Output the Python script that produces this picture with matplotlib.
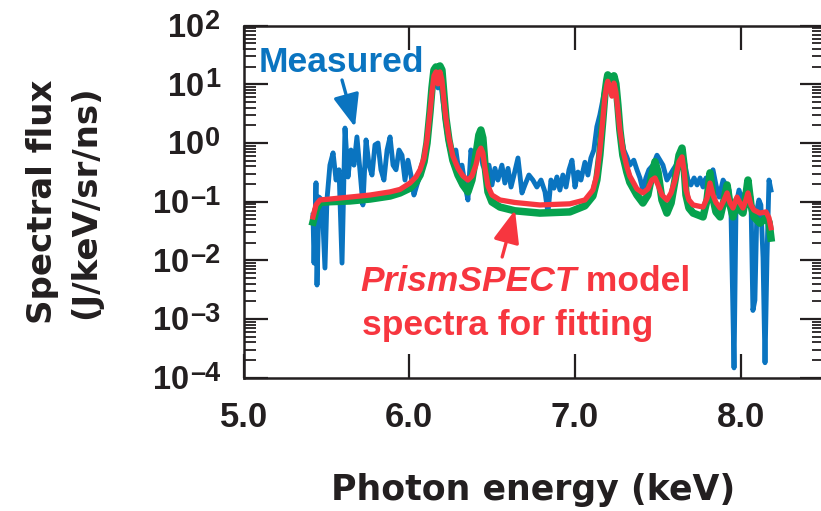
import numpy as np
import matplotlib
matplotlib.use("Agg")
import matplotlib.pyplot as plt
from matplotlib.ticker import LogLocator, NullFormatter

plt.rcParams['font.family'] = ['Liberation Sans', 'DejaVu Sans']
plt.rcParams['font.weight'] = 'bold'

# ---- measured spectrum (keV, J/keV/sr/ns) ----
meas_energy = [
    5.419, 5.425, 5.437, 5.443, 5.455, 5.473, 5.491, 5.503, 5.521, 5.540,
    5.558, 5.576, 5.594, 5.612, 5.630, 5.648, 5.666, 5.684, 5.702, 5.720,
    5.739, 5.757, 5.775, 5.793, 5.811, 5.829, 5.847, 5.866, 5.884, 5.902,
    5.920, 5.938, 5.956, 5.974, 5.992, 6.010, 6.028, 6.046, 6.065, 6.089,
    6.107, 6.125, 6.143, 6.161, 6.173, 6.185, 6.203, 6.221, 6.239, 6.263,
    6.281, 6.300, 6.318, 6.336, 6.354, 6.372, 6.390, 6.408, 6.426, 6.444,
    6.463, 6.481, 6.499, 6.517, 6.535, 6.559, 6.577, 6.596, 6.614, 6.632,
    6.656, 6.680, 6.698, 6.722, 6.746, 6.770, 6.795, 6.819, 6.837, 6.855,
    6.873, 6.891, 6.909, 6.927, 6.946, 6.964, 6.982, 7.000, 7.018, 7.036,
    7.060, 7.078, 7.096, 7.114, 7.132, 7.150, 7.168, 7.186, 7.204, 7.223,
    7.241, 7.259, 7.277, 7.295, 7.313, 7.331, 7.355, 7.374, 7.392, 7.410,
    7.428, 7.446, 7.471, 7.495, 7.513, 7.531, 7.555, 7.573, 7.592, 7.610,
    7.628, 7.646, 7.664, 7.682, 7.700, 7.719, 7.737, 7.755, 7.773, 7.791,
    7.809, 7.833, 7.851, 7.870, 7.894, 7.912, 7.930, 7.942, 7.960, 7.972,
    7.990, 8.008, 8.026, 8.044, 8.062, 8.074, 8.086, 8.098, 8.110, 8.122,
    8.135, 8.147, 8.159, 8.171, 8.183,
]
meas_flux = [
    0.059, 0.009, 0.21, 0.0038, 0.12, 0.107, 0.0074, 0.107, 0.42, 0.68,
    0.234, 0.35, 0.009, 1.8, 0.264, 0.76, 0.42, 1.27, 0.35, 0.088,
    1.13, 0.42, 0.285, 0.93, 1.0, 0.35, 0.234, 0.76, 1.27, 0.42,
    0.35, 0.76, 0.62, 0.234, 0.51, 0.285, 0.13, 0.193, 0.285, 0.51,
    1.0, 3.0, 9.8, 14.5, 8.7, 14.0, 5.4, 2.03, 0.93, 0.51,
    0.76, 0.32, 0.42, 0.193, 0.107, 0.76, 0.42, 0.76, 0.76, 0.42,
    0.32, 0.42, 0.193, 0.37, 0.234, 0.42, 0.208, 0.37, 0.178, 0.285,
    0.556, 0.141, 0.193, 0.285, 0.234, 0.178, 0.234, 0.147, 0.064, 0.234,
    0.17, 0.264, 0.158, 0.285, 0.178, 0.35, 0.51, 0.178, 0.32, 0.234,
    0.47, 0.285, 0.556, 0.76, 1.9, 3.0, 5.4, 9.8, 11.8, 6.6,
    9.8, 3.66, 1.37, 0.76, 0.58, 0.42, 0.51, 0.35, 0.254, 0.158,
    0.254, 0.35, 0.42, 0.62, 0.51, 0.42, 0.234, 0.285, 0.35, 0.42,
    0.58, 0.76, 0.42, 0.234, 0.193, 0.254, 0.193, 0.254, 0.178, 0.254,
    0.12, 0.35, 0.193, 0.12, 0.234, 0.193, 0.158, 0.059, 0.000147, 0.088,
    0.158, 0.107, 0.141, 0.178, 0.12, 0.0014, 0.0021, 0.072, 0.107, 0.088,
    0.011, 0.00018, 0.0114, 0.234, 0.158,
]

# ---- PrismSPECT model spectra ----
model_energy = [
    5.419, 5.437, 5.461, 5.521, 5.642, 5.763, 5.884, 5.944, 6.004, 6.040,
    6.065, 6.089, 6.107, 6.125, 6.137, 6.149, 6.161, 6.173, 6.185, 6.197,
    6.209, 6.221, 6.239, 6.263, 6.294, 6.324, 6.354, 6.378, 6.402, 6.420,
    6.432, 6.444, 6.457, 6.475, 6.499, 6.547, 6.637, 6.788, 6.969, 7.060,
    7.108, 7.132, 7.150, 7.168, 7.180, 7.192, 7.198, 7.210, 7.223, 7.235,
    7.247, 7.259, 7.271, 7.289, 7.313, 7.331, 7.374, 7.410, 7.440, 7.464,
    7.483, 7.501, 7.525, 7.555, 7.580, 7.604, 7.628, 7.646, 7.658, 7.670,
    7.688, 7.713, 7.773, 7.797, 7.815, 7.833, 7.851, 7.876, 7.900, 7.918,
    7.936, 7.954, 7.978, 7.996, 8.014, 8.032, 8.044, 8.062, 8.080, 8.116,
    8.153, 8.171, 8.183,
]
model_red_flux = [
    0.055, 0.088, 0.107, 0.111, 0.120, 0.130, 0.147, 0.162, 0.208, 0.264,
    0.35, 0.556, 1.13, 3.4, 7.4, 14.0, 16.3, 10.2, 16.3, 11.8,
    5.4, 2.67, 1.22, 0.60, 0.37, 0.274, 0.234, 0.274, 0.42, 0.71,
    0.82, 0.68, 0.37, 0.185, 0.13, 0.107, 0.097, 0.088, 0.092, 0.107,
    0.158, 0.285, 0.76, 2.47, 5.9, 9.8, 11.3, 8.7, 6.3, 10.5,
    7.4, 3.66, 1.67, 0.76, 0.40, 0.274, 0.165, 0.141, 0.165, 0.234,
    0.254, 0.193, 0.13, 0.107, 0.141, 0.234, 0.48, 0.58, 0.35, 0.158,
    0.107, 0.088, 0.081, 0.115, 0.208, 0.13, 0.097, 0.078, 0.107, 0.141,
    0.095, 0.078, 0.12, 0.095, 0.078, 0.107, 0.141, 0.088, 0.072, 0.064,
    0.067, 0.053, 0.036,
]
model_green_flux = [
    0.045, 0.072, 0.097, 0.100, 0.103, 0.111, 0.125, 0.141, 0.17, 0.215,
    0.285, 0.48, 1.0, 3.4, 8.7, 17.6, 19.8, 12.8, 20.6, 17.6,
    6.6, 2.67, 1.13, 0.51, 0.285, 0.193, 0.147, 0.234, 0.62, 1.37,
    1.67, 1.22, 0.42, 0.147, 0.099, 0.081, 0.070, 0.064, 0.067, 0.085,
    0.125, 0.234, 0.62, 2.47, 6.6, 11.8, 14.5, 11.8, 8.0, 14.0,
    10.2, 4.45, 1.67, 0.62, 0.32, 0.215, 0.13, 0.095, 0.13, 0.285,
    0.48, 0.32, 0.107, 0.064, 0.095, 0.234, 0.62, 0.82, 0.42, 0.13,
    0.078, 0.064, 0.055, 0.107, 0.31, 0.115, 0.067, 0.055, 0.107, 0.193,
    0.088, 0.055, 0.107, 0.072, 0.064, 0.13, 0.234, 0.088, 0.055, 0.043,
    0.053, 0.045, 0.024,
]

x_ticks = [5.0, 6.0, 7.0, 8.0]
x_tick_labels = ["5.0", "6.0", "7.0", "8.0"]
y_exponents = [-4, -3, -2, -1, 0, 1, 2]

BLUE = "#0a74c0"
GREEN = "#06a24e"
RED = "#f7363f"
INK = "#231f20"
FS = 25.5

fig = plt.figure(figsize=(8.21, 5.11), dpi=100)
ax = fig.add_axes([243.6 / 821, (511 - 377.7) / 511, (823.5 - 243.6) / 821, 352 / 511])

ax.plot(meas_energy, meas_flux, color=BLUE, lw=3.5, solid_joinstyle="round", zorder=2)
ax.plot(model_energy, model_green_flux, color=GREEN, lw=5.4, solid_joinstyle="round", zorder=3)
ax.plot(model_energy, model_red_flux, color=RED, lw=3.8, solid_joinstyle="round", zorder=4)

ax.set_yscale("log")
ax.set_ylim(1e-4, 1e2)
ax.set_xlim(5.0, 8.5)
ax.set_xticks(x_ticks)
ax.set_xticklabels(x_tick_labels)
ax.yaxis.set_major_locator(LogLocator(base=10, numticks=10))
ax.yaxis.set_minor_locator(LogLocator(base=10, subs=range(2, 10), numticks=100))
ax.yaxis.set_major_formatter(NullFormatter())
ax.yaxis.set_minor_formatter(NullFormatter())

ax.tick_params(which="both", direction="in", top=True, right=True, color=INK, labelcolor=INK)
ax.tick_params(which="major", length=17, width=1.6, pad=17)
ax.tick_params(which="minor", length=8.5, width=1.3)
ax.tick_params(axis="x", which="major", labelsize=25)
for s in ax.spines.values():
    s.set_linewidth(1.8)
    s.set_color(INK)

# decade labels: "10" with a large raised exponent
ytr = ax.get_yaxis_transform()
for n in y_exponents:
    exp_txt = ax.annotate(str(n).replace("-", "\u2013"), xy=(0, 10.0 ** n), xycoords=ytr,
                          xytext=(-17, -2.2), textcoords="offset points",
                          ha="right", va="baseline", fontsize=19.5, color=INK)
    ax.annotate("10", xy=(0, 10.0 ** n), xycoords=(exp_txt, ytr),
                xytext=(-0.8, -8.2), textcoords="offset points",
                ha="right", va="baseline", fontsize=23.5, color=INK)

ax.set_xlabel("Photon energy (keV)", fontsize=25, fontweight="bold", color=INK,
              fontfamily="DejaVu Sans")
ax.xaxis.set_label_coords(0.5, (377.7 - 500) / 352)
ax.xaxis.label.set_verticalalignment("baseline")

ax.set_ylabel("Spectral flux\n(J/keV/sr/ns)", fontsize=24.5, fontweight="bold", color=INK,
              fontfamily="DejaVu Sans", linespacing=1.4)
ax.yaxis.set_label_coords(-0.2442, 0.5)

# annotations
ax.text(0.0252, 0.868, "Measured", color=BLUE, fontsize=FS, fontweight="bold",
        transform=ax.transAxes, ha="left", va="baseline")
ax.annotate("", xy=(0.1921, 0.7122), xytext=(0.1697, 0.8457), xycoords="axes fraction",
            arrowprops=dict(arrowstyle="-|>,head_length=0.8,head_width=0.32", lw=2.4,
                            color=BLUE, shrinkA=0, shrinkB=0, mutation_scale=25))

t1 = ax.text(0.2007, 0.2463, "PrismSPECT", color=RED, fontsize=FS, fontweight="bold",
             style="italic", transform=ax.transAxes, ha="left", va="baseline")
ax.annotate(" model", xy=(1, 0), xycoords=t1, color=RED, fontsize=FS, fontweight="bold",
            ha="left", va="bottom")
ax.text(0.2041, 0.1213, "spectra for fitting", color=RED, fontsize=FS, fontweight="bold",
        transform=ax.transAxes, ha="left", va="baseline")
ax.annotate("", xy=(0.4680, 0.4764), xytext=(0.4459, 0.3429), xycoords="axes fraction",
            arrowprops=dict(arrowstyle="-|>,head_length=0.8,head_width=0.32", lw=2.4,
                            color=RED, shrinkA=0, shrinkB=0, mutation_scale=25))

fig.savefig("out.png", dpi=100)
